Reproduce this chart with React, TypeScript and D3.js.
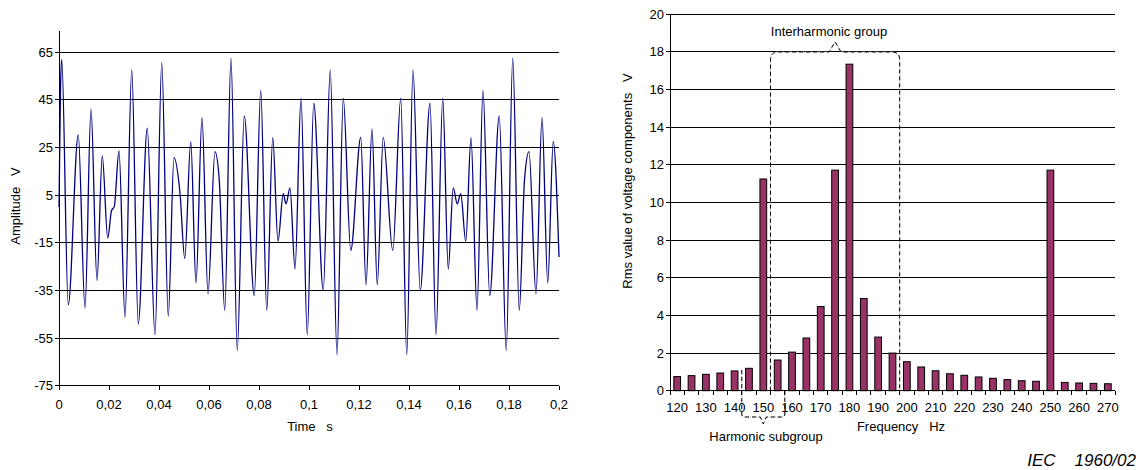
import React from "react";
import * as d3 from "d3";

// ---------- Left chart: waveform (time in ms, amplitude in V) ----------
const waveTimeMs = [
  0, 0.6, 1.1, 3.7, 7.7, 10.4, 12.8, 15.2, 17.3, 19.5, 21.0, 22.1, 24.0, 26.4, 29.1, 31.7,
  35.3, 38.4, 41.1, 43.7, 46.0, 48.4, 50.3, 52.7, 54.8, 57.2, 59.6, 62.4, 64.1, 66.3, 68.8,
  71.3, 74.1, 78.1, 80.7, 83.1, 85.5, 87.6, 89.7, 90.8, 92.4, 94.4, 96.8, 99.3, 101.9, 105.7,
  108.5, 111.2, 113.7, 116.7, 120.7, 122.8, 125.2, 127.3, 129.7, 133.5, 136.7, 139.1, 141.6,
  144.5, 148.4, 150.8, 153.5, 155.7, 157.7, 159.3, 160.7, 162.7, 164.8, 167.2, 169.6, 172.3,
  176.1, 178.9, 181.5, 184.1, 186.2, 188.0, 190.8, 193.2, 195.5, 197.7, 200.0,
];
const waveAmplitude = [
  0, 50, 62, -41, 30.3, -42.4, 41.1, -30.8, 21.5, -13, -1.5, 0.2, 23.6, -46.2, 57.6, -49,
  33.1, -53.6, 60.7, -45.9, 20.8, 5.8, -21.5, 27.5, -31.9, 37.6, -36.4, 23.3, 11.4, -43.4, 62.5,
  -60.2, 38.3, -37.2, 49, -43.4, 29.2, -14.4, 5.6, 1.4, 8.1, -26, 45.7, -53.6, 43.6, -35,
  57.6, -62, 45.7, -18.2, 29.3, -32.6, 32.7, -32.6, 29.3, -18.2, 45.7, -62, 57.6,
  -35, 43.6, -53.6, 45.7, -26, 8.1, 1.4, 5.6, -14.4, 29.2, -43.4, 49, -37.2,
  38.3, -60.2, 62.5, -43.4, 11.4, 23.3, -36.4, 37.6, -31.9, 27.5, -21,
];
const leftYTicks = [65, 45, 25, 5, -15, -35, -55, -75];
const leftXTicks = [0, 0.02, 0.04, 0.06, 0.08, 0.1, 0.12, 0.14, 0.16, 0.18, 0.2];

// ---------- Right chart: spectrum ----------
const frequencies = [
  120, 125, 130, 135, 140, 145, 150, 155, 160, 165, 170, 175, 180, 185, 190, 195,
  200, 205, 210, 215, 220, 225, 230, 235, 240, 245, 250, 255, 260, 265, 270,
];
const rmsValues = [
  0.75, 0.8, 0.87, 0.94, 1.05, 1.19, 11.25, 1.63, 2.05, 2.8, 4.47, 11.72, 17.35, 4.9, 2.85, 2.0,
  1.54, 1.26, 1.06, 0.9, 0.82, 0.73, 0.66, 0.59, 0.53, 0.5, 11.72, 0.44, 0.41, 0.39, 0.37,
];
const rightYTicks = [0, 2, 4, 6, 8, 10, 12, 14, 16, 18, 20];

const FONT = "'Liberation Sans', Arial, sans-serif";

export default function App() {
  // left scales
  const xL = d3.scaleLinear().domain([0, 0.2]).range([59, 559]);
  const yL = d3.scaleLinear().domain([-75, 65]).range([385.7, 52.3]);
  const pts: [number, number][] = waveTimeMs.map((t, i) => [t / 1000, waveAmplitude[i]]);
  const linePath = d3
    .line<[number, number]>()
    .x((d) => xL(d[0]))
    .y((d) => yL(d[1]))
    .curve(d3.curveMonotoneX)(pts) as string;

  // right scales
  const yR = d3.scaleLinear().domain([0, 20]).range([390.7, 14.3]);
  const xR = d3
    .scaleBand<string>()
    .domain(frequencies.map(String))
    .range([670, 1115])
    .paddingInner(0.53)
    .paddingOuter(0.265);
  const step = xR.step();
  const x0R = 670;
  const boundary = (i: number) => x0R + i * step;

  const fmtT = (v: number) => String(+v.toFixed(2)).replace(".", ",");

  // interharmonic bracket geometry (between 150|155 and 195|200 boundaries)
  const ihL = boundary(frequencies.indexOf(155));
  const ihR = boundary(frequencies.indexOf(200));
  const ihTop = yR(18);
  const ihMid = (ihL + ihR) / 2;
  const r = 8;
  const ihPath = `M${ihL},${yR(0)} L${ihL},${ihTop + r} Q${ihL},${ihTop} ${ihL + r},${ihTop} L${ihMid - 6},${ihTop} L${ihMid},${ihTop - 10} L${ihMid + 6},${ihTop} L${ihR - r},${ihTop} Q${ihR},${ihTop} ${ihR},${ihTop + r} L${ihR},${yR(0)}`;

  // harmonic subgroup bracket (between 140|145 and 155|160 boundaries)
  const hsL = boundary(frequencies.indexOf(145));
  const hsR = boundary(frequencies.indexOf(160));
  const hsBot = 417;
  const hsMid = (hsL + hsR) / 2;
  const hsPath = `M${hsL},${yR(1.1)} L${hsL},${hsBot - 3} Q${hsL},${hsBot} ${hsL + 3},${hsBot} L${hsMid - 3},${hsBot} L${hsMid},${hsBot + 7} L${hsMid + 3},${hsBot} L${hsR - 3},${hsBot} Q${hsR},${hsBot} ${hsR},${hsBot - 3} L${hsR},${yR(0)}`;

  return (
    <svg
      width={1138}
      height={470}
      style={{ position: "absolute", left: 0, top: 0, background: "#fff" }}
      fontFamily={FONT}
    >
      <rect x={0} y={0} width={1138} height={470} fill="#fff" />

      {/* ===== Left chart ===== */}
      <g>
        {leftYTicks
          .filter((v) => v !== -75)
          .map((v) => (
            <line
              key={"gl" + v}
              x1={xL(0)}
              x2={xL(0.2)}
              y1={yL(v)}
              y2={yL(v)}
              stroke="#000"
              strokeWidth={1}
              shapeRendering="crispEdges"
            />
          ))}
        <path d={linePath} fill="none" stroke="#000080" strokeWidth={1.3} />
        {/* axes */}
        <line x1={xL(0)} x2={xL(0)} y1={31} y2={yL(-75)} stroke="#000" shapeRendering="crispEdges" />
        <line x1={xL(0)} x2={xL(0.2)} y1={yL(-75)} y2={yL(-75)} stroke="#000" shapeRendering="crispEdges" />
        {leftYTicks.map((v) => (
          <g key={"ly" + v}>
            <line x1={xL(0) - 4} x2={xL(0)} y1={yL(v)} y2={yL(v)} stroke="#000" shapeRendering="crispEdges" />
            <text x={53} y={yL(v)} dy="0.35em" textAnchor="end" fontSize={13} fill="#000">
              {v}
            </text>
          </g>
        ))}
        {leftXTicks.map((v) => (
          <g key={"lx" + v}>
            <line x1={xL(v)} x2={xL(v)} y1={yL(-75)} y2={yL(-75) + 4} stroke="#000" shapeRendering="crispEdges" />
            <text x={xL(v)} y={408.5} textAnchor="middle" fontSize={13} fill="#000">
              {fmtT(v)}
            </text>
          </g>
        ))}
        <text x={310} y={431} textAnchor="middle" fontSize={13} fill="#000" style={{ whiteSpace: "pre" }}>
          {"Time   s"}
        </text>
        <text
          transform={`translate(20,206) rotate(-90)`}
          textAnchor="middle"
          fontSize={13}
          fill="#000"
          style={{ whiteSpace: "pre" }}
        >
          {"Amplitude   V"}
        </text>
      </g>

      {/* ===== Right chart ===== */}
      <g>
        {rightYTicks
          .filter((v) => v !== 0)
          .map((v) => (
            <line
              key={"gr" + v}
              x1={670}
              x2={1115}
              y1={yR(v)}
              y2={yR(v)}
              stroke="#000"
              shapeRendering="crispEdges"
            />
          ))}
        {frequencies.map((f, i) => (
          <rect
            key={"b" + f}
            x={xR(String(f))}
            y={yR(rmsValues[i])}
            width={xR.bandwidth()}
            height={yR(0) - yR(rmsValues[i])}
            fill="#993366"
            stroke="#000"
            strokeWidth={1}
          />
        ))}
        {/* brackets */}
        <path d={ihPath} fill="none" stroke="#aaa" strokeWidth={1} strokeDasharray="1,1" />
        <path d={ihPath} fill="none" stroke="#000" strokeWidth={1} strokeDasharray="4,3" />
        <path d={hsPath} fill="none" stroke="#aaa" strokeWidth={1} strokeDasharray="1,1" />
        <path d={hsPath} fill="none" stroke="#000" strokeWidth={1} strokeDasharray="4,3" />
        {/* axes */}
        <line x1={670} x2={670} y1={yR(20)} y2={yR(0)} stroke="#000" shapeRendering="crispEdges" />
        <line x1={670} x2={1115} y1={yR(0)} y2={yR(0)} stroke="#000" shapeRendering="crispEdges" />
        {rightYTicks.map((v) => (
          <g key={"ry" + v}>
            <line x1={666} x2={670} y1={yR(v)} y2={yR(v)} stroke="#000" shapeRendering="crispEdges" />
            <text x={664} y={yR(v)} dy="0.35em" textAnchor="end" fontSize={13} fill="#000">
              {v}
            </text>
          </g>
        ))}
        {d3.range(frequencies.length + 1).map((i) => (
          <line
            key={"rt" + i}
            x1={boundary(i)}
            x2={boundary(i)}
            y1={yR(0)}
            y2={yR(0) + 4}
            stroke="#000"
            shapeRendering="crispEdges"
          />
        ))}
        {frequencies
          .filter((f) => f % 10 === 0)
          .map((f) => (
            <text
              key={"rx" + f}
              x={(xR(String(f)) as number) + xR.bandwidth() / 2}
              y={412}
              textAnchor="middle"
              fontSize={13}
              fill="#000"
            >
              {f}
            </text>
          ))}
        <text x={901} y={431} textAnchor="middle" fontSize={13} fill="#000" style={{ whiteSpace: "pre" }}>
          {"Frequency   Hz"}
        </text>
        <text
          transform={`translate(632,181) rotate(-90)`}
          textAnchor="middle"
          fontSize={13}
          fill="#000"
          style={{ whiteSpace: "pre" }}
        >
          {"Rms value of voltage components   V"}
        </text>
        <text x={829} y={36} textAnchor="middle" fontSize={13} fill="#000">
          Interharmonic group
        </text>
        <text x={766} y={441} textAnchor="middle" fontSize={13} fill="#000">
          Harmonic subgroup
        </text>
      </g>

      <text
        x={1136}
        y={466}
        textAnchor="end"
        fontSize={17}
        fontStyle="italic"
        fill="#000"
        style={{ whiteSpace: "pre" }}
      >
        {"IEC    1960/02"}
      </text>
    </svg>
  );
}
